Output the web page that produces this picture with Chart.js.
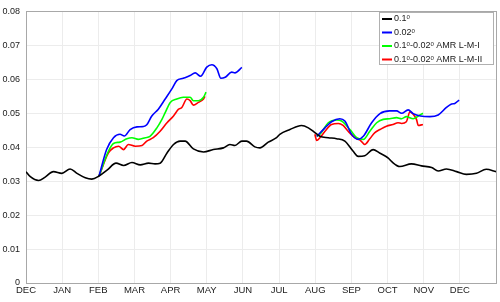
<!DOCTYPE html>
<html>
<head>
<meta charset="utf-8">
<script src="https://cdn.jsdelivr.net/npm/chart.js@4.4.0/dist/chart.umd.min.js"></script>
<style>
    html, body { margin: 0; padding: 0; background: #fff; }
    #wrap { width: 500px; height: 302px; }
</style>
</head>
<body>
<div id="wrap"><canvas id="chart" width="500" height="302"></canvas></div>
<script>
// month tick labels (x = months since start of DEC)
const monthLabels = ['DEC', 'JAN', 'FEB', 'MAR', 'APR', 'MAY', 'JUN', 'JUL', 'AUG', 'SEP', 'OCT', 'NOV', 'DEC'];

// 0.1 deg run
const coarseMonths = [0, 0.12, 0.35, 0.53, 0.76, 0.99, 1.22, 1.41, 1.64, 1.82, 2.02, 2.25, 2.49, 2.70, 2.93, 3.16, 3.39, 3.57, 3.71, 3.90,
    4.08, 4.26, 4.40, 4.63, 4.91, 5.18, 5.46, 5.64, 5.78, 5.97, 6.10, 6.33, 6.47, 6.70, 6.93, 7.02, 7.30, 7.62, 7.81, 7.99,
    8.13, 8.36, 8.59, 8.82, 9.05, 9.19, 9.37, 9.60, 9.78, 10.02, 10.11, 10.34, 10.66, 10.94, 11.22, 11.40, 11.63, 11.91, 12.18, 12.46, 12.73, 13.0];
const coarseValues = [0.0328, 0.0313, 0.0302, 0.0312, 0.0328, 0.0323, 0.0336, 0.0323, 0.0310, 0.0306, 0.0315, 0.0333, 0.0353, 0.0346, 0.0355, 0.0348, 0.0353, 0.0351, 0.0353, 0.0383,
    0.0408, 0.0418, 0.0418, 0.0395, 0.0386, 0.0393, 0.0398, 0.0408, 0.0405, 0.0418, 0.0418, 0.0401, 0.0398, 0.0415, 0.0428, 0.0438, 0.0452, 0.0464, 0.0457, 0.0443,
    0.0432, 0.0428, 0.0425, 0.0418, 0.0388, 0.0373, 0.0375, 0.0393, 0.0383, 0.0368, 0.0358, 0.0343, 0.0351, 0.0345, 0.0340, 0.0330, 0.0336, 0.0328, 0.0320, 0.0323, 0.0335, 0.0328];

// 0.02 deg run (two periods, null = gap)
const fineMonths = [2.02, 2.23, 2.42, 2.60, 2.72, 2.88, 3.07, 3.25, 3.34, 3.48, 3.66, 3.85, 4.03, 4.17, 4.35, 4.54, 4.68, 4.83, 5.00, 5.14, 5.28, 5.39, 5.51, 5.69, 5.78, 5.97,
    7.0,
    8.04, 8.27, 8.45, 8.68, 8.82, 9.01, 9.19, 9.33, 9.56, 9.79, 10.06, 10.25, 10.39, 10.57, 10.71, 10.91, 11.17, 11.40, 11.63, 11.77, 11.86, 11.98];
const fineValues = [0.0315, 0.0393, 0.0428, 0.0438, 0.0433, 0.0452, 0.0460, 0.0461, 0.0466, 0.0492, 0.0512, 0.0542, 0.0571, 0.0596, 0.0603, 0.0611, 0.0619, 0.0609, 0.0636, 0.0643, 0.0631, 0.0603, 0.0606, 0.0621, 0.0619, 0.0635,
    null,
    0.0432, 0.0457, 0.0475, 0.0484, 0.0477, 0.0437, 0.0423, 0.0432, 0.0472, 0.0499, 0.0507, 0.0507, 0.0500, 0.0510, 0.0499, 0.0492, 0.0490, 0.0495, 0.0517, 0.0527, 0.0529, 0.0539];

// AMR L-M-I
const amr1Months = [2.02, 2.28, 2.42, 2.60, 2.79, 2.93, 3.11, 3.30, 3.43, 3.62, 3.76, 3.85, 3.99, 4.17, 4.35, 4.54, 4.63, 4.77, 4.91, 4.98,
    7.0,
    8.04, 8.13, 8.36, 8.59, 8.73, 8.96, 9.15, 9.33, 9.51, 9.70, 9.88, 10.06, 10.25, 10.39, 10.52, 10.71, 10.85, 10.98];
const amr1Values = [0.0315, 0.0388, 0.0411, 0.0415, 0.0425, 0.0428, 0.0423, 0.0428, 0.0432, 0.0457, 0.0482, 0.0502, 0.0532, 0.0542, 0.0547, 0.0547, 0.0537, 0.0537, 0.0547, 0.0562,
    null,
    0.0432, 0.0438, 0.0472, 0.0480, 0.0477, 0.0452, 0.0428, 0.0423, 0.0447, 0.0472, 0.0482, 0.0484, 0.0487, 0.0484, 0.0490, 0.0484, 0.0492, 0.0500];

// AMR L-M-II
const amr2Months = [2.02, 2.28, 2.42, 2.56, 2.70, 2.83, 3.02, 3.21, 3.34, 3.52, 3.71, 3.90, 4.08, 4.22, 4.31, 4.45, 4.54, 4.63, 4.77, 4.91, 4.95,
    7.0,
    7.99, 8.04, 8.13, 8.27, 8.45, 8.64, 8.77, 8.91, 9.10, 9.24, 9.37, 9.51, 9.65, 9.79, 9.97, 10.15, 10.29, 10.39, 10.52, 10.62, 10.71, 10.80, 10.85, 10.98];
const amr2Values = [0.0315, 0.0383, 0.0398, 0.0403, 0.0393, 0.0408, 0.0403, 0.0405, 0.0418, 0.0428, 0.0447, 0.0472, 0.0492, 0.0512, 0.0517, 0.0542, 0.0537, 0.0524, 0.0532, 0.0542, 0.0550,
    null,
    0.0438, 0.0420, 0.0428, 0.0447, 0.0467, 0.0470, 0.0464, 0.0447, 0.0428, 0.0421, 0.0408, 0.0425, 0.0443, 0.0452, 0.0462, 0.0467, 0.0472, 0.0470, 0.0475, 0.0504, 0.0497, 0.0482, 0.0464, 0.0467];

const seriesLabels = ['0.1ᵒ', '0.02ᵒ', '0.1ᵒ-0.02ᵒ AMR L-M-I', '0.1ᵒ-0.02ᵒ AMR L-M-II'];
const seriesColors = ['#000000', '#0000ff', '#00ff00', '#ff0000'];

const FONT = '"Liberation Sans", Arial, Helvetica, sans-serif';

function toPoints(months, values) {
    return months.map((m, i) => ({ x: m, y: values[i] }));
}

// axes box (MATLAB style frame)
const frame = {
    id: 'frame',
    beforeDatasetsDraw(chart) {
        const a = chart.chartArea;
        const ctx = chart.ctx;
        ctx.save();
        ctx.strokeStyle = '#a8a8a8';
        ctx.lineWidth = 1;
        ctx.strokeRect(Math.round(a.left) + 0.5, Math.round(a.top) + 0.5, Math.round(a.right - a.left), Math.round(a.bottom - a.top));
        ctx.restore();
    }
};

// boxed legend in the top-right corner
const boxLegend = {
    id: 'boxLegend',
    afterDraw(chart) {
        const ctx = chart.ctx;
        const a = chart.chartArea;
        const w = 114, h = 52;
        const left = Math.round(a.right - w - 3), top = Math.round(a.top + 1);
        ctx.save();
        ctx.fillStyle = '#ffffff';
        ctx.fillRect(left, top, w, h);
        ctx.strokeStyle = '#b0b0b0';
        ctx.lineWidth = 1;
        ctx.strokeRect(left + 0.5, top + 0.5, w, h);
        ctx.font = '9px ' + FONT;
        ctx.textBaseline = 'middle';
        chart.data.datasets.forEach((ds, i) => {
            const y = top + 7 + i * 13.5;
            ctx.strokeStyle = ds.borderColor;
            ctx.lineWidth = 2;
            ctx.beginPath();
            ctx.moveTo(left + 3, y);
            ctx.lineTo(left + 13, y);
            ctx.stroke();
            ctx.fillStyle = '#1a1a1a';
            ctx.fillText(ds.label, left + 15, y);
        });
        ctx.restore();
    }
};

const allMonths = [coarseMonths, fineMonths, amr1Months, amr2Months];
const allValues = [coarseValues, fineValues, amr1Values, amr2Values];

const ctx = document.getElementById('chart').getContext('2d');
new Chart(ctx, {
    type: 'line',
    data: {
        datasets: seriesLabels.map((label, i) => ({
            label: label,
            data: toPoints(allMonths[i], allValues[i]),
            borderColor: seriesColors[i],
            borderWidth: 1.6,
            pointRadius: 0,
            fill: false,
            spanGaps: false,
            cubicInterpolationMode: 'monotone'
        }))
    },
    options: {
        responsive: false,
        devicePixelRatio: 1,
        animation: false,
        layout: { padding: { top: 10, right: 4, left: 0, bottom: 0 } },
        plugins: {
            legend: { display: false },
            tooltip: { enabled: false }
        },
        scales: {
            x: {
                type: 'linear',
                min: 0,
                max: 13,
                afterFit: (scale) => { scale.height = 19; },
                ticks: {
                    stepSize: 1,
                    autoSkip: false,
                    maxRotation: 0,
                    padding: 2,
                    color: '#1a1a1a',
                    font: { family: FONT, size: 9.5 },
                    callback: (v) => monthLabels[Math.round(v)] ?? ''
                },
                grid: { color: '#ececec', drawTicks: false },
                border: { color: '#a8a8a8' }
            },
            y: {
                min: 0,
                max: 0.08,
                afterFit: (scale) => { scale.width = 26; },
                ticks: {
                    stepSize: 0.01,
                    padding: 6,
                    color: '#1a1a1a',
                    font: { family: FONT, size: 9 },
                    callback: (v) => (Math.abs(v) < 1e-9 ? '0' : v.toFixed(2))
                },
                grid: { color: '#ececec', drawTicks: false },
                border: { color: '#a8a8a8' }
            }
        }
    },
    plugins: [frame, boxLegend]
});
</script>
</body>
</html>
